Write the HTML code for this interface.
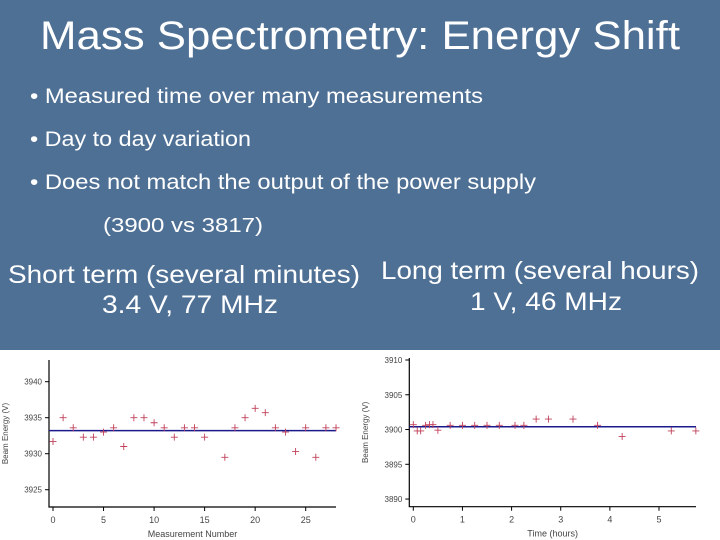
<!DOCTYPE html>
<html><head><meta charset="utf-8"><style>
html,body{margin:0;padding:0;}
body{width:720px;height:540px;overflow:hidden;background:#4f7095;font-family:"Liberation Sans",sans-serif;}
svg{display:block;}
</style></head><body>
<svg id="s" width="720" height="540" xmlns="http://www.w3.org/2000/svg">
<rect x="0" y="0" width="720" height="350" fill="#4f7095"/>
<text x="40" y="49" textLength="640" lengthAdjust="spacingAndGlyphs" fill="#fff" font-size="40">Mass Spectrometry: Energy Shift</text>
<text x="30" y="103" textLength="453" lengthAdjust="spacingAndGlyphs" fill="#fff" font-size="21">• Measured time over many measurements</text>
<text x="30" y="146" textLength="221" lengthAdjust="spacingAndGlyphs" fill="#fff" font-size="21">• Day to day variation</text>
<text x="30" y="189" textLength="506" lengthAdjust="spacingAndGlyphs" fill="#fff" font-size="21">• Does not match the output of the power supply</text>
<text x="103" y="232" textLength="160" lengthAdjust="spacingAndGlyphs" fill="#fff" font-size="20">(3900 vs 3817)</text>
<text x="8" y="283" textLength="352" lengthAdjust="spacingAndGlyphs" fill="#fff" font-size="25">Short term (several minutes)</text>
<text x="102" y="313" textLength="176" lengthAdjust="spacingAndGlyphs" fill="#fff" font-size="25">3.4 V, 77 MHz</text>
<text x="381" y="279" textLength="318" lengthAdjust="spacingAndGlyphs" fill="#fff" font-size="25">Long term (several hours)</text>
<text x="470" y="310" textLength="152" lengthAdjust="spacingAndGlyphs" fill="#fff" font-size="25">1 V, 46 MHz</text>
<rect x="0" y="350" width="720" height="190" fill="#fff"/>
<g id="c1"></g>
<g id="c2"></g>
</svg>
<script>
const shortX=[0,1,2,3,4,5,6,7,8,9,10,11,12,13,14,15,17,18,19,20,21,22,23,24,25,26,27,28];
const shortY=[3931.7,3935,3933.6,3932.3,3932.3,3933,3933.6,3931,3935,3935,3934.3,3933.6,3932.3,3933.6,3933.6,3932.3,3929.5,3933.6,3935,3936.3,3935.7,3933.6,3933,3930.3,3933.6,3929.5,3933.6,3933.6];
const shortMean=[3933.2];
const shortXTicks=[0,5,10,15,20,25];
const shortYTicks=[3925,3930,3935,3940];
const longX=[0,0.08,0.15,0.25,0.33,0.4,0.5,0.75,1,1.25,1.5,1.75,2.07,2.25,2.5,2.75,3.25,3.75,4.25,5.25,5.75];
const longY=[3900.7,3899.8,3899.8,3900.6,3900.7,3900.7,3899.9,3900.6,3900.6,3900.6,3900.6,3900.6,3900.6,3900.6,3901.5,3901.5,3901.5,3900.6,3899,3899.8,3899.8];
const longMean=[3900.4];
const longXTicks=[0,1,2,3,4,5];
const longYTicks=[3890,3895,3900,3905,3910];
const NS="http://www.w3.org/2000/svg";
function mk(p,t,a){const e=document.createElementNS(NS,t);for(const k in a)e.setAttribute(k,a[k]);p.appendChild(e);return e;}
function chart(g,o){
  const sx=v=>o.x0+(v-o.xmin)*(o.x1-o.x0)/(o.xmax-o.xmin);
  const sy=v=>o.y0-(v-o.ymin)*(o.y0-o.y1)/(o.ymax-o.ymin);
  const ax=mk(g,'path',{d:`M${o.ax},${o.top}V${o.y0}H${o.right}`,stroke:'#000','stroke-width':1.2,fill:'none'});
  
  
  o.yt.forEach(v=>{
    const y=sy(v);
    const t=mk(g,'line',{x1:o.ax-4,x2:o.ax,y1:y,y2:y,stroke:'#000','stroke-width':1});
    
    
    const l=mk(g,'text',{x:o.ax-7,y:y+3,'text-anchor':'end','font-size':8,fill:'#444'});
    l.textContent=v;
    
    
  });
  o.xt.forEach(v=>{
    const x=sx(v);
    const t=mk(g,'line',{x1:x,x2:x,y1:o.y0,y2:o.y0+4,stroke:'#000','stroke-width':1});
    
    
    const l=mk(g,'text',{x:x,y:o.y0+16,'text-anchor':'middle','font-size':9,fill:'#444'});
    l.textContent=v;
    
    
  });
  const xt=mk(g,'text',{x:(o.ax+o.right)/2,y:o.y0+30,'text-anchor':'middle','font-size':9,fill:'#444'});
  xt.textContent=o.xl;
  
  
  const ym=(o.top+o.y0)/2;
  const yt=mk(g,'text',{x:o.ylx,y:ym,'text-anchor':'middle','font-size':8,fill:'#444',transform:`rotate(-90 ${o.ylx} ${ym})`});
  yt.textContent='Beam Energy (V)';
  
  
  const m=sy(o.mean[0]);
  const ml=mk(g,'line',{x1:o.ax,x2:o.right,y1:m,y2:m,stroke:'#1a1a8c','stroke-width':1.5});
  
  
  o.xs.forEach((v,i)=>{
    const x=sx(v),y=sy(o.ys[i]);
    const p=mk(g,'path',{d:`M${x-3.5},${y}H${x+3.5}M${x},${y-3.5}V${y+3.5}`,stroke:'#c0405a','stroke-width':0.9});
    
    
  });
}
chart(document.getElementById('c1'),{x0:53,x1:305.7,xmin:0,xmax:25,y0:507,y1:381.7,ymin:3922.6,ymax:3940,ax:49,top:360,right:336,xt:shortXTicks,yt:shortYTicks,xs:shortX,ys:shortY,mean:shortMean,xl:'Measurement Number',ylx:8});
chart(document.getElementById('c2'),{x0:413.3,x1:659,xmin:0,xmax:5,y0:506.7,y1:360,ymin:3888.9,ymax:3910,ax:409.3,top:358,right:696,xt:longXTicks,yt:longYTicks,xs:longX,ys:longY,mean:longMean,xl:'Time (hours)',ylx:368});
</script>
</body></html>
